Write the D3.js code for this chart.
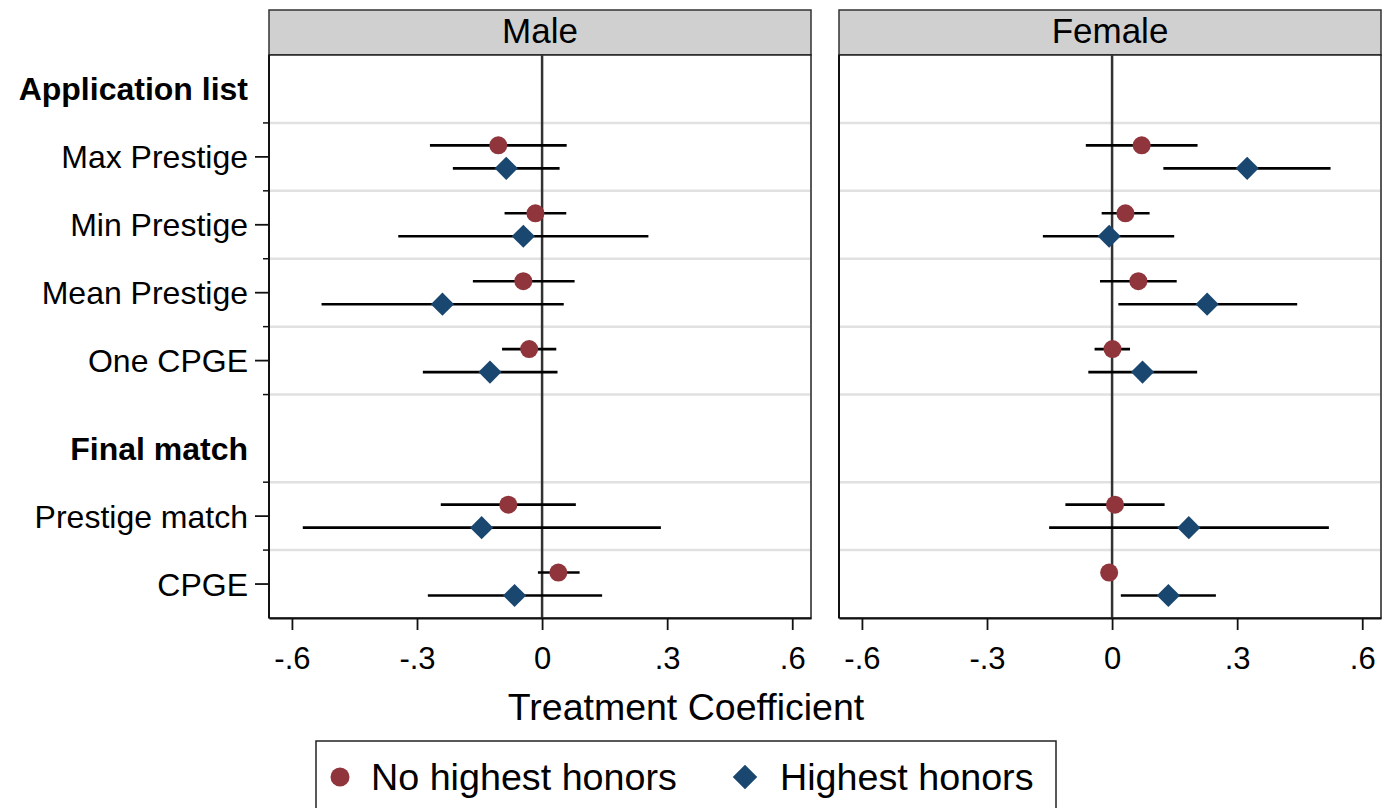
<!DOCTYPE html>
<html>
<head>
<meta charset="utf-8">
<script src="https://cdn.jsdelivr.net/npm/d3@7"></script>
<style>
  body { margin: 0; background: #fff; }
  text { font-family: "Liberation Sans", Arial, sans-serif; fill: #000; }
</style>
</head>
<body>
<svg id="chart" width="1383" height="808"></svg>
<script>
// ---- data ----
const panels = ["Male", "Female"];
const groupHeadings = ["Application list", "Final match"];
const outcomes = ["Max Prestige", "Min Prestige", "Mean Prestige", "One CPGE", "Prestige match", "CPGE"];
const outcomeGroup = [0, 0, 0, 0, 1, 1];
const seriesNames = ["No highest honors", "Highest honors"];
const xTickValues = [-0.6, -0.3, 0, 0.3, 0.6];
const xTickLabels = ["-.6", "-.3", "0", ".3", ".6"];

// estimate, lower 95% bound, upper 95% bound (one entry per outcome)
const maleNoHonors = [
  [-0.105, -0.269, 0.059], [-0.016, -0.090, 0.058], [-0.045, -0.166, 0.078],
  [-0.031, -0.096, 0.034], [-0.081, -0.243, 0.081], [0.039, -0.010, 0.090]
];
const maleHonors = [
  [-0.086, -0.214, 0.042], [-0.045, -0.345, 0.255], [-0.239, -0.529, 0.052],
  [-0.125, -0.286, 0.037], [-0.145, -0.574, 0.285], [-0.066, -0.274, 0.144]
];
const femaleNoHonors = [
  [0.071, -0.063, 0.205], [0.032, -0.025, 0.090], [0.063, -0.029, 0.155],
  [0.001, -0.042, 0.043], [0.007, -0.112, 0.126], [-0.007, -0.020, 0.008]
];
const femaleHonors = [
  [0.324, 0.123, 0.524], [-0.007, -0.166, 0.149], [0.228, 0.015, 0.444],
  [0.073, -0.057, 0.204], [0.184, -0.151, 0.520], [0.135, 0.021, 0.249]
];
const panelSeries = [[maleNoHonors, maleHonors], [femaleNoHonors, femaleHonors]];

// ---- layout ----
const colors = ["#90353b", "#1a476f"];
const panelX = [269, 839];
const panelW = 542;
const headerTop = 10, plotTop = 55, plotBottom = 618;
const groupGap = 0.29;        // extra space before each new heading block
const markerOffset = 11.5;    // vertical split between the two series in a row

// Build row list: heading, then its outcomes
const rows = [];
groupHeadings.forEach((h, g) => {
  rows.push({ label: h, heading: true, group: g });
  outcomes.forEach((o, i) => {
    if (outcomeGroup[i] === g) rows.push({ label: o, heading: false, group: g, idx: i });
  });
});
rows.forEach((r, k) => { r.pos = k + r.group * groupGap; });
const lastPos = rows[rows.length - 1].pos;

const y = d3.scaleLinear().domain([-0.5, lastPos + 0.5]).range([plotTop, plotBottom]);
const x = d3.scaleLinear().domain([-0.655, 0.645]).range([0, panelW]);

const svg = d3.select("#chart");

panels.forEach((name, p) => {
  const g = svg.append("g").attr("transform", `translate(${panelX[p]},0)`);

  // strip header
  g.append("rect")
    .attr("x", 0).attr("y", headerTop)
    .attr("width", panelW).attr("height", plotTop - headerTop)
    .attr("fill", "#d0d0d0").attr("stroke", "#333").attr("stroke-width", 1.5);
  g.append("text")
    .attr("x", panelW / 2).attr("y", 43)
    .attr("text-anchor", "middle").attr("font-size", 35)
    .text(name);

  // plot region
  g.append("rect")
    .attr("x", 0).attr("y", plotTop)
    .attr("width", panelW).attr("height", plotBottom - plotTop)
    .attr("fill", "#fff").attr("stroke", "#222").attr("stroke-width", 1.5);

  // horizontal separators below every row except the last
  g.selectAll("line.grid")
    .data(rows.slice(0, -1))
    .join("line")
    .attr("class", "grid")
    .attr("x1", 1).attr("x2", panelW - 1)
    .attr("y1", d => y(d.pos + 0.5)).attr("y2", d => y(d.pos + 0.5))
    .attr("stroke", "#e1e1e1").attr("stroke-width", 2.5);

  // zero reference line
  g.append("line")
    .attr("x1", x(0)).attr("x2", x(0))
    .attr("y1", plotTop).attr("y2", plotBottom)
    .attr("stroke", "#333").attr("stroke-width", 2.5);

  // x axis
  const xAxis = d3.axisBottom(x)
    .tickValues(xTickValues)
    .tickFormat((d, i) => xTickLabels[i])
    .tickSize(12).tickSizeOuter(0).tickPadding(17);
  const ax = g.append("g").attr("transform", `translate(0,${plotBottom})`).call(xAxis);
  ax.select(".domain").attr("stroke", "#111").attr("stroke-width", 2);
  ax.selectAll(".tick line").attr("stroke", "#111").attr("stroke-width", 1.8);
  ax.selectAll(".tick text").attr("font-size", 31).attr("font-family", "Liberation Sans, Arial, sans-serif");

  // left axis line
  g.append("line")
    .attr("x1", 0).attr("x2", 0).attr("y1", plotTop).attr("y2", plotBottom)
    .attr("stroke", "#111").attr("stroke-width", 2);

  const itemRows = rows.filter(r => !r.heading);
  const series = panelSeries[p];

  series.forEach((vals, s) => {
    const off = s === 0 ? -markerOffset : markerOffset;
    // confidence intervals
    g.selectAll(`line.ci${s}`)
      .data(itemRows)
      .join("line")
      .attr("class", `ci${s}`)
      .attr("x1", d => x(vals[d.idx][1])).attr("x2", d => x(vals[d.idx][2]))
      .attr("y1", d => y(d.pos) + off).attr("y2", d => y(d.pos) + off)
      .attr("stroke", "#000").attr("stroke-width", 2.6);
  });

  series.forEach((vals, s) => {
    const off = s === 0 ? -markerOffset : markerOffset;
    if (s === 0) {
      g.selectAll("circle.pt")
        .data(itemRows)
        .join("circle")
        .attr("class", "pt")
        .attr("cx", d => x(vals[d.idx][0]))
        .attr("cy", d => y(d.pos) + off)
        .attr("r", 9)
        .attr("fill", colors[0]);
    } else {
      g.selectAll("path.pt")
        .data(itemRows)
        .join("path")
        .attr("class", "pt")
        .attr("d", d3.symbol(d3.symbolSquare, 268)())
        .attr("transform", d => `translate(${x(vals[d.idx][0])},${y(d.pos) + off}) rotate(45)`)
        .attr("fill", colors[1]);
    }
  });

  // y axis labels on the first panel only
  if (p === 0) {
    const ya = g.append("g");
    // major ticks at outcome rows
    ya.selectAll("line.maj")
      .data(itemRows).join("line")
      .attr("x1", -14).attr("x2", 0)
      .attr("y1", d => y(d.pos)).attr("y2", d => y(d.pos))
      .attr("stroke", "#111").attr("stroke-width", 1.8);
    // minor ticks at separators
    ya.selectAll("line.min")
      .data(rows.slice(0, -1)).join("line")
      .attr("x1", -6).attr("x2", 0)
      .attr("y1", d => y(d.pos + 0.5)).attr("y2", d => y(d.pos + 0.5))
      .attr("stroke", "#111").attr("stroke-width", 1.5);
    ya.selectAll("text")
      .data(rows).join("text")
      .attr("x", -21)
      .attr("y", d => y(d.pos))
      .attr("dy", "0.36em")
      .attr("text-anchor", "end")
      .attr("font-size", d => d.heading ? 32 : 32)
      .attr("font-weight", d => d.heading ? "bold" : "normal")
      .text(d => d.label);
  }
});

// axis title
svg.append("text")
  .attr("x", 686).attr("y", 720)
  .attr("text-anchor", "middle").attr("font-size", 37.5)
  .text("Treatment Coefficient");

// legend
const leg = svg.append("g");
leg.append("rect")
  .attr("x", 316).attr("y", 741).attr("width", 740).attr("height", 90)
  .attr("fill", "#fff").attr("stroke", "#222").attr("stroke-width", 1.5);
const legItems = [
  { name: seriesNames[0], mx: 340, tx: 371 },
  { name: seriesNames[1], mx: 745, tx: 780 }
];
legItems.forEach((it, s) => {
  if (s === 0) {
    leg.append("circle").attr("cx", it.mx).attr("cy", 777).attr("r", 9.5).attr("fill", colors[0]);
  } else {
    leg.append("path")
      .attr("d", d3.symbol(d3.symbolSquare, 300)())
      .attr("transform", `translate(${it.mx},777) rotate(45)`)
      .attr("fill", colors[1]);
  }
  leg.append("text")
    .attr("x", it.tx).attr("y", 790)
    .attr("font-size", 37.7)
    .text(it.name);
});
</script>
</body>
</html>
